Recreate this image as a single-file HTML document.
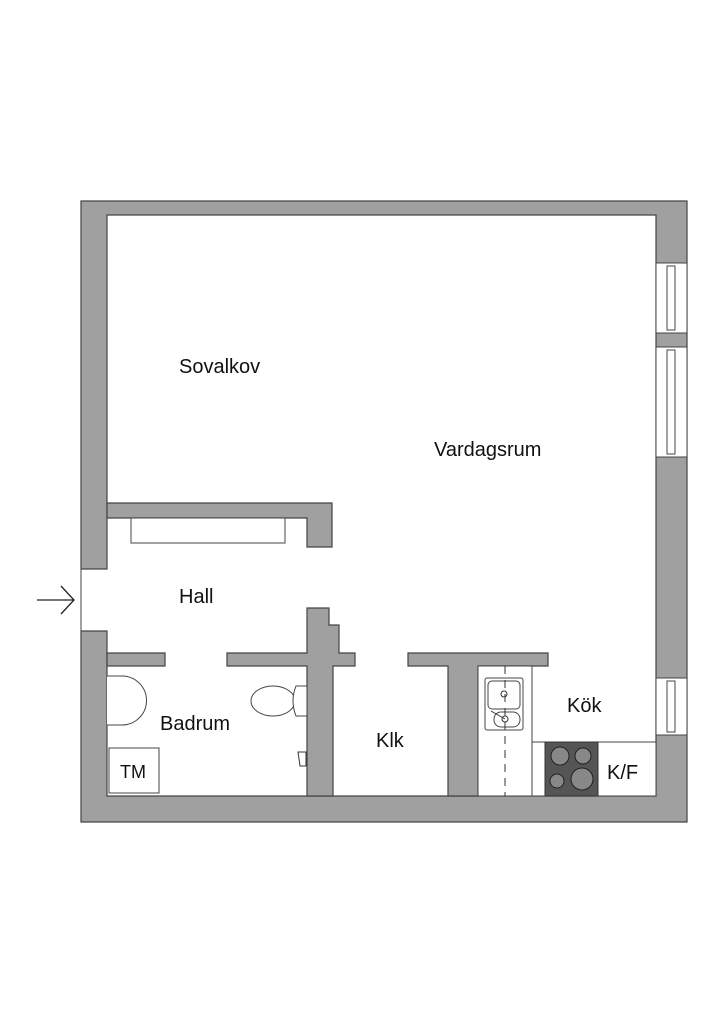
<!DOCTYPE html><html><head><meta charset="utf-8"><style>body{margin:0;background:#fff}svg{display:block}text{font-family:"Liberation Sans",sans-serif;fill:#111}</style></head><body>
<svg width="724" height="1024" viewBox="0 0 724 1024" xmlns="http://www.w3.org/2000/svg">
<g fill="#a0a0a0" stroke="#444" stroke-width="1.2">
<path d="M81 201H687V822H81V631H107V796H656V215H107V569H81Z"/>
<path d="M107 503H332V547H307V518H107Z"/>
<path d="M107 653H165V666H107Z"/>
<path d="M227 653H307V608H329V625H339V653H355V666H333V796H307V666H227Z"/>
<path d="M408 653H548V666H478V796H448V666H408Z"/>
</g>
<g fill="#fff" stroke="#444" stroke-width="1">
<rect x="656" y="263" width="31" height="70"/><rect x="667" y="266" width="8" height="64"/>
<rect x="656" y="347" width="31" height="110"/><rect x="667" y="350" width="8" height="104"/>
<rect x="656" y="678" width="31" height="57"/><rect x="667" y="681" width="8" height="51"/>
<rect x="131" y="518" width="154" height="25"/>
<rect x="478" y="666" width="54" height="130"/>
<rect x="532" y="742" width="124" height="54"/>
<rect x="109" y="748" width="50" height="45"/>
<rect x="485" y="678" width="38" height="52" rx="2"/>
<rect x="488" y="681" width="32" height="28" rx="4"/>
<rect x="494" y="712" width="26" height="15" rx="7"/>
<path d="M107 676H122A24 24 0 0 1 122 725H107"/>
<ellipse cx="273" cy="701" rx="22" ry="15"/>
<path d="M307 686H296Q290 701 296 716H307Z"/>
</g>
<line x1="81" y1="569" x2="81" y2="631" stroke="#444"/>
<line x1="505" y1="666" x2="505" y2="796" stroke="#333" stroke-dasharray="8,6"/>
<circle cx="504" cy="694" r="3" fill="none" stroke="#333"/><circle cx="505" cy="719" r="3" fill="none" stroke="#333"/>
<line x1="491" y1="711" x2="505" y2="719" stroke="#333"/>
<rect x="545" y="742" width="53" height="54" fill="#555" stroke="#333"/>
<g fill="#888" stroke="#222"><circle cx="560" cy="756" r="9"/><circle cx="583" cy="756" r="8"/><circle cx="557" cy="781" r="7"/><circle cx="582" cy="779" r="11"/></g>
<path d="M298 752h8v14h-6z" fill="#fff" stroke="#333"/>
<path d="M37 600H73M61 586L74 600L61 614" fill="none" stroke="#222" stroke-width="1.3"/>
<g font-size="20"><text x="179" y="373">Sovalkov</text><text x="434" y="456">Vardagsrum</text><text x="179" y="603">Hall</text><text x="160" y="730">Badrum</text><text x="376" y="747">Klk</text><text x="567" y="712">Kök</text><text x="607" y="779">K/F</text><text x="120" y="778" font-size="18">TM</text></g>
</svg></body></html>
